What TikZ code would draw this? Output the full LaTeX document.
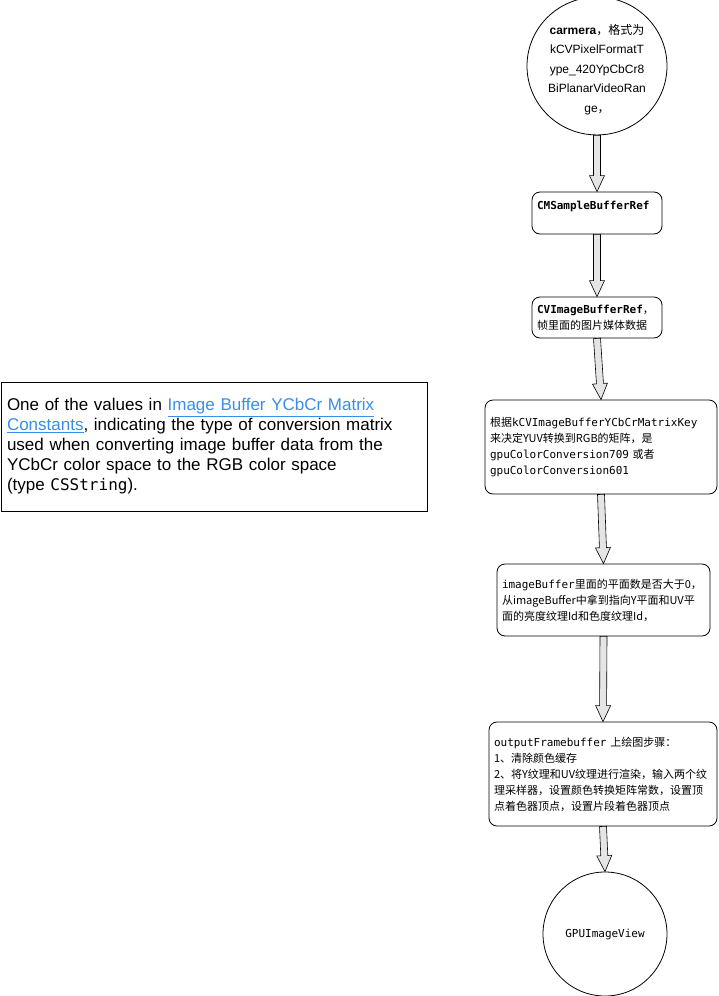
\documentclass[tikz,border=0pt]{standalone}
\usepackage{fontspec}
\setmainfont{Liberation Sans}
\setmonofont{DejaVu Sans Mono}
\newfontfamily\cjk{Noto Sans CJK SC}
\usetikzlibrary{calc,shapes.geometric}
\definecolor{linkblue}{HTML}{3A8DE8}

\begin{document}
\begin{tikzpicture}[x=1pt,y=-1pt,line width=0.8pt,
	every node/.style={inner sep=0pt},
	box/.style={draw,rounded corners=8pt,inner xsep=5pt,align=left,font=\ttfamily\fontsize{11}{16}\selectfont},
	flow/.style={draw,fill=gray!20,line width=0.6pt,to path={let \p1=($(\tikztotarget)!16pt!(\tikztostart)$) in
		($(\tikztostart)!3.5pt!90:(\tikztotarget)$) -- ($(\p1)!3.5pt!90:(\tikztotarget)$) -- ($(\p1)!7.5pt!90:(\tikztotarget)$) --
		(\tikztotarget) -- ($(\p1)!7.5pt!-90:(\tikztotarget)$) -- ($(\p1)!3.5pt!-90:(\tikztotarget)$) --
		($(\tikztostart)!3.5pt!-90:(\tikztotarget)$) -- cycle}}]
	\useasboundingbox (0,0) rectangle (719,996);

	\node[draw,ellipse,minimum width=140pt,minimum height=132pt,align=center,font=\fontsize{12}{19.5}\selectfont]
	                        (camera)    at (597,66)    {\rule{0pt}{17pt}{\bfseries carmera}{\cjk ，格式为}\\kCVPixelFormatT\\ype\_420YpCbCr8\\BiPlanarVideoRan\\ge{\cjk ，}};
	\node[box,minimum width=130pt,minimum height=42pt,text width=120pt,text height=17pt,text depth=25pt]
	                        (sample)    at (597,213)   {\bfseries CMSampleBufferRef};
	\node[box,minimum width=130pt,minimum height=41pt,text width=120pt]
	                        (cvimage)   at (597,317.5) {{\bfseries CVImageBufferRef}{\cjk ，}\\{\cjk 帧里面的图片媒体数据}};
	\node[box,minimum width=232pt,minimum height=94pt,text width=222pt]
	                        (ycbcr)     at (601,447)   {{\cjk 根据}kCVImageBufferYCbCrMatrixKey\\{\cjk 来决定YUV转换到RGB的矩阵，是}\\gpuColorConversion709 {\cjk 或者}\\gpuColorConversion601};
	\node[box,minimum width=213pt,minimum height=72pt,text width=203pt]
	                        (planes)    at (603.5,600) {imageBuffer{\cjk 里面的平面数是否大于0，}\\{\cjk 从imageBuffer中拿到指向Y平面和UV平}\\{\cjk 面的亮度纹理Id和色度纹理Id，}};
	\node[box,minimum width=228pt,minimum height=104pt,text width=218pt]
	                        (render)    at (603,774)   {outputFramebuffer {\cjk 上绘图步骤：}\\{\cjk 1、清除颜色缓存}\\{\cjk 2、将Y纹理和UV纹理进行渲染，输入两个纹}\\{\cjk 理采样器，设置颜色转换矩阵常数，设置顶}\\{\cjk 点着色器顶点，设置片段着色器顶点}};
	\node[draw,circle,minimum size=124pt,font=\ttfamily\fontsize{11}{13}\selectfont]
	                        (gpuview)   at (605,934)   {GPUImageView};

	% apple doc note
	\node[draw,minimum width=426pt,minimum height=129pt,text width=414pt,inner xsep=6pt,align=left,font=\fontsize{17}{20}\selectfont]
	                        (docnote)   at (214,446.5) {One of the values in {\color{linkblue}\underline{Image Buffer YCbCr Matrix}}\\{\color{linkblue}\underline{Constants}}, indicating the type of conversion matrix\\used when converting image buffer data from the\\YCbCr color space to the RGB color space\\(type {\ttfamily\fontsize{16}{20}\selectfont CSString}).};

	\path	(camera.south)	edge[flow]	(sample.north)
			(sample.south)	edge[flow]	(cvimage.north)
			(cvimage.south)	edge[flow]	(ycbcr.north)
			(ycbcr.south)	edge[flow]	(planes.north)
			(planes.south)	edge[flow]	(render.north)
			(render.south)	edge[flow]	(gpuview.north);
\end{tikzpicture}
\end{document}
